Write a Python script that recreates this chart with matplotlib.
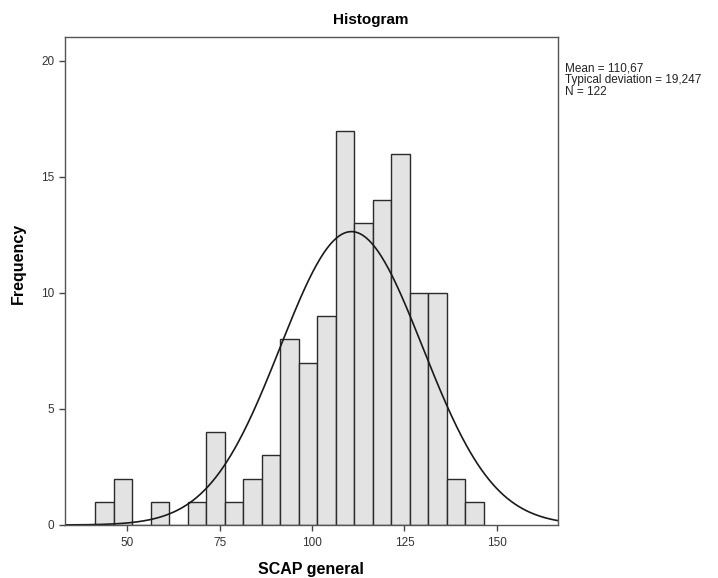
import numpy as np
import matplotlib.pyplot as plt

plt.rcParams["font.family"] = ["Liberation Sans", "DejaVu Sans"]

# Datos del histograma
bin_edges = [41.4 + 5 * i for i in range(22)]
counts = [1, 2, 0, 1, 0, 1, 4, 1, 2, 3, 8, 7, 9, 17, 13, 14, 16, 10, 10, 2, 1]
mean = 110.67
sd = 19.247
n = 122
x_ticks = [50, 75, 100, 125, 150]
y_ticks = [0, 5, 10, 15, 20]

fig = plt.figure(figsize=(7.18, 5.78), dpi=100)
ax = fig.add_axes([0.0905, 0.0917, 0.6865, 0.8443])

lefts = np.array(bin_edges[:-1]); widths = np.diff(bin_edges)
ax.bar(lefts, counts, width=widths, align="edge", color="#e3e3e3", edgecolor="#2b2b2b", linewidth=1)

# Curva normal
xs = np.linspace(33, 167, 400)
bw = widths[0]
ys = n * bw / (sd * np.sqrt(2 * np.pi)) * np.exp(-0.5 * ((xs - mean) / sd) ** 2)
ax.plot(xs, ys, color="#1a1a1a", linewidth=1.2)

ax.set_xlim(33.2, 166.5); ax.set_ylim(0, 21.03)
ax.set_xticks(x_ticks); ax.set_yticks(y_ticks)
ax.tick_params(direction="out", length=4, width=1, colors="#444444", labelsize=8.5, labelcolor="#333333")
ax.tick_params(axis="x", pad=5)
for s in ax.spines.values():
    s.set_color("#555555"); s.set_linewidth(1)

fig.text(0.026, 0.545, "Frequency", rotation=90, ha="center", va="center", fontsize=11.5, fontweight="bold")
fig.text(0.433, 0.015, "SCAP general", ha="center", va="center", fontsize=11.5, fontweight="bold")
fig.text(0.517, 0.966, "Histogram", ha="center", va="center", fontsize=11, fontweight="bold")
fig.text(0.787, 0.892, "Mean = 110,67\nTypical deviation = 19,247\nN = 122",
         ha="left", va="top", fontsize=8.5, linespacing=0.95, color="#222222")

plt.savefig("out.png", dpi=100)
